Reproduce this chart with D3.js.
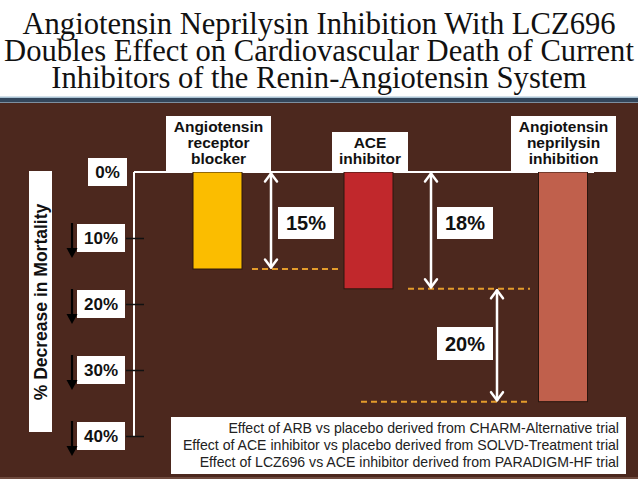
<!DOCTYPE html>
<html><head><meta charset="utf-8">
<script src="https://cdn.jsdelivr.net/npm/d3@7"></script>
<style>html,body{margin:0;padding:0;background:#fff;}svg{display:block;}</style>
</head><body>
<script>
// ---- data ----
const titleLines = ["Angiotensin Neprilysin Inhibition With LCZ696",
  "Doubles Effect on Cardiovascular Death of Current",
  "Inhibitors of the Renin-Angiotensin System"];
const categories = ["ARB", "ACE", "ANI"];
const categoryLabels = [["Angiotensin","receptor","blocker"],["ACE","inhibitor"],["Angiotensin","neprilysin","inhibition"]];
const values = [14.7, 17.7, 34.8];           // % decrease in mortality
const barColors = ["#fbbd00", "#c1282c", "#c0604c"];
const tickValues = [0, 10, 20, 30, 40];
const tickLabels = ["0%", "10%", "20%", "30%", "40%"];
const yTitle = "% Decrease in Mortality";
const diffFrom = [0, 0, 17.7];
const diffTo = [14.7, 17.7, 34.8];
const diffLabels = ["15%", "18%", "20%"];
const footnotes = ["Effect of ARB vs placebo derived from CHARM-Alternative trial",
  "Effect of ACE inhibitor vs placebo derived from SOLVD-Treatment trial",
  "Effect of LCZ696 vs ACE inhibitor derived from PARADIGM-HF trial"];

// ---- layout ----
const W = 638, H = 479;
const svg = d3.select("body").append("svg").attr("width", W).attr("height", H);
const sans = "'Liberation Sans', Arial, Helvetica, sans-serif";

// backgrounds
svg.append("rect").attr("x",0).attr("y",0).attr("width",W).attr("height",H).attr("fill","#fff");
svg.append("rect").attr("x",0).attr("y",103).attr("width",W).attr("height",H-103).attr("fill","#4c281e");
svg.append("rect").attr("x",0).attr("y",96.5).attr("width",W).attr("height",1.5).attr("fill","#a9c2d3");
svg.append("rect").attr("x",0).attr("y",98).attr("width",W).attr("height",4).attr("fill","#33465b");
svg.append("rect").attr("x",0).attr("y",102).attr("width",W).attr("height",1).attr("fill","#7d8fa0");
svg.append("rect").attr("x",0).attr("y",477).attr("width",W).attr("height",2).attr("fill","#6e4a3e");

// title (one text block, three lines)
const title = svg.append("text")
  .attr("text-anchor","middle")
  .attr("font-family","'Liberation Serif','Times New Roman',serif")
  .attr("font-size", 30.6).attr("fill","#111");
title.selectAll("tspan").data(titleLines).join("tspan")
  .attr("x", W/2).attr("y", (d,i)=>34 + i*27).text(d=>d);

// scales
const y = d3.scaleLinear().domain([0, 40]).range([172, 436]);
const x = d3.scaleOrdinal().domain(categories).range([217.5, 368.5, 563]);
const barW = 49;

// y axis
const axisX = 134;
svg.append("line").attr("x1",axisX).attr("x2",axisX).attr("y1",y(0)).attr("y2",y(40))
  .attr("stroke","#fff").attr("stroke-width",2);
svg.append("line").attr("x1",axisX).attr("x2",594).attr("y1",y(0)).attr("y2",y(0))
  .attr("stroke","#fff").attr("stroke-width",2);
const axis = d3.axisLeft(y).tickValues(tickValues.slice(1)).tickFormat("").tickSizeInner(0).tickSizeOuter(0);
const ag = svg.append("g").attr("transform",`translate(${axisX},0)`).call(axis);
ag.select(".domain").remove();
ag.selectAll(".tick line").attr("x1",-8).attr("x2",10).attr("stroke","#111").attr("stroke-width",1.5);

// tick label boxes
const tg = svg.append("g");
tickValues.forEach((v,i)=>{
  const bx = i===0 ? 88 : 77, bw = i===0 ? 39 : 48;
  tg.append("rect").attr("x",bx).attr("y",y(v)-14).attr("width",bw).attr("height",28).attr("fill","#fff");
  tg.append("text").attr("x",bx+bw/2).attr("y",y(v)+6).attr("text-anchor","middle")
    .attr("font-family",sans).attr("font-weight","bold").attr("font-size",17).attr("fill","#111")
    .text(tickLabels[i]);
  if (i>0) {
    const top = y(v)-15, bot = y(v)+20;
    tg.append("line").attr("x1",72).attr("x2",72).attr("y1",top).attr("y2",bot-8)
      .attr("stroke","#000").attr("stroke-width",2.2);
    tg.append("path").attr("d",`M${72-5.5},${bot-10} L${72+5.5},${bot-10} L72,${bot} Z`).attr("fill","#000");
  }
});

// y title
svg.append("rect").attr("x",29).attr("y",171).attr("width",23).attr("height",261).attr("fill","#fff");
svg.append("text").attr("transform","translate(46.5,302) rotate(-90)").attr("text-anchor","middle")
  .attr("font-family",sans).attr("font-weight","bold").attr("font-size",17.5).attr("fill","#111")
  .text(yTitle);

// bars
svg.append("g").selectAll("rect").data(categories).join("rect")
  .attr("x", d=>x(d)-barW/2).attr("y", y(0))
  .attr("width", barW).attr("height", (d,i)=>y(values[i])-y(0))
  .attr("fill", (d,i)=>barColors[i]).attr("stroke","#2a160e").attr("stroke-width",1);

// category label boxes
const labelBoxes = [{x:166,w:105},{x:332,w:76},{x:511,w:105}];
categories.forEach((c,i)=>{
  const lines = categoryLabels[i];
  const h = lines.length*16 + 8;
  const g = svg.append("g");
  g.append("rect").attr("x",labelBoxes[i].x).attr("y",y(0)-h).attr("width",labelBoxes[i].w).attr("height",h).attr("fill","#fff");
  g.selectAll("text").data(lines).join("text")
    .attr("x", labelBoxes[i].x + labelBoxes[i].w/2)
    .attr("y", (d,j)=> y(0) - h + 16 + j*16)
    .attr("text-anchor","middle").attr("font-family",sans).attr("font-weight","bold")
    .attr("font-size",15.5).attr("fill","#111").text(d=>d);
});

// dashed reference lines
const dashX = [[252, 341],[408, 530],[361, 530]];
svg.append("g").selectAll("line").data(diffTo).join("line")
  .attr("x1",(d,i)=>dashX[i][0]).attr("x2",(d,i)=>dashX[i][1])
  .attr("y1",d=>y(d)).attr("y2",d=>y(d))
  .attr("stroke","#e39b2b").attr("stroke-width",2).attr("stroke-dasharray","6,4");

// double-headed arrows
const arrowX = [271, 431, 497];
const ar = svg.append("g").attr("stroke","#fff").attr("stroke-width",2.5).attr("fill","none").attr("stroke-linecap","round").attr("stroke-linejoin","round");
diffLabels.forEach((l,i)=>{
  const ax = arrowX[i], y1 = y(diffFrom[i])+1.5, y2 = y(diffTo[i])-1.5;
  ar.append("line").attr("x1",ax).attr("x2",ax).attr("y1",y1).attr("y2",y2);
  ar.append("path").attr("d",`M${ax-6},${y1+8} L${ax},${y1} L${ax+6},${y1+8}`);
  ar.append("path").attr("d",`M${ax-6},${y2-8} L${ax},${y2} L${ax+6},${y2-8}`);
});

// difference label boxes
const diffBoxes = [{x:278,y:207,w:56,h:32},{x:437,y:207,w:56,h:32},{x:437,y:327,w:56,h:33}];
diffLabels.forEach((l,i)=>{
  const b = diffBoxes[i];
  svg.append("rect").attr("x",b.x).attr("y",b.y).attr("width",b.w).attr("height",b.h).attr("fill","#fff");
  svg.append("text").attr("x",b.x+b.w/2).attr("y",b.y+b.h/2+7).attr("text-anchor","middle")
    .attr("font-family",sans).attr("font-weight","bold").attr("font-size",20).attr("fill","#111").text(l);
});

// footnote
svg.append("rect").attr("x",171).attr("y",417).attr("width",455).attr("height",57).attr("fill","#fff");
svg.append("g").selectAll("text").data(footnotes).join("text")
  .attr("x",619).attr("y",(d,i)=>432.5 + i*17.3).attr("text-anchor","end")
  .attr("font-family",sans).attr("font-size",14.1).attr("fill","#222").text(d=>d);
</script>
</body></html>
